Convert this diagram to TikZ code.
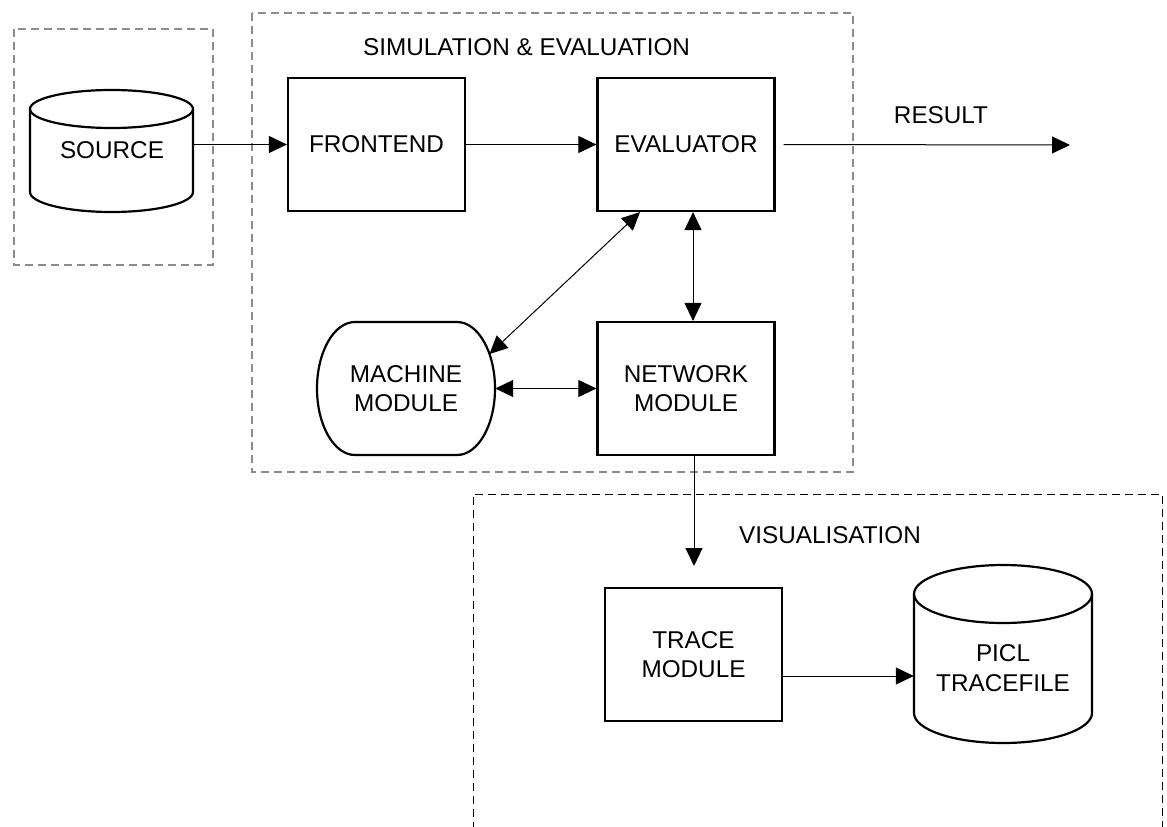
\documentclass[tikz,border=0pt]{standalone}
\usepackage{fontspec}
\setmainfont{Liberation Sans}
\usetikzlibrary{arrows.meta,calc}
\begin{document}
\begin{tikzpicture}[x=1pt,y=-1pt,
  lbl/.style={font=\fontsize{24.3}{29.5}\selectfont, align=center, inner sep=0pt},
  blk/.style={lbl, draw, line width=2.2pt, minimum width=177pt, minimum height=133pt},
  shell/.style={draw, line width=2.2pt},
  tip/.tip={Triangle[length=18pt,width=17pt]},
  conn/.style={line width=1pt, -tip},
  conn2/.style={line width=1pt, tip-tip},
  grayframe/.style={draw=gray!90, line width=1.3pt, dash pattern=on 8pt off 5pt},
  blackframe/.style={draw=black, line width=1pt, dash pattern=on 8pt off 5pt},
]
\useasboundingbox (0,0) rectangle (1167,827);

% group frames
\draw[grayframe] (14,29) rectangle (213,265);
\draw[grayframe] (252,13) rectangle (853,472);
\draw[blackframe] (473,830) -- (473,494) -- (1162,494) -- (1162,830);

% group titles
\node[lbl, anchor=west] (simTitle) at (363,47) {SIMULATION \& EVALUATION};
\node[lbl] (visTitle) at (830,535) {VISUALISATION};

% source drum
\node[lbl, minimum width=163pt, minimum height=122pt] (src) at (111.5,151) {};
\draw[shell] (30,109) -- (30,192)
  arc[start angle=180, end angle=360, x radius=81.5pt, y radius=20pt]
  -- (193,109);
\draw[shell] (111.5,109) ellipse[x radius=81.5pt, y radius=19pt];
\node[lbl] (srcTxt) at (112,150) {SOURCE};

% processing blocks
\node[blk] (fe) at (376.5,144.5) {FRONTEND};
\node[blk] (ev) at (686,144.5) {EVALUATOR};
\node[blk] (net) at (686,388.5) {NETWORK\\MODULE};
\node[blk] (tr) at (693.5,654.5) {TRACE\\MODULE};

% machine module (rounded sides)
\node[lbl, minimum width=178pt, minimum height=133pt] (mach) at (406,388.5) {MACHINE\\MODULE};
\draw[shell] (355,322) -- (457,322)
  arc[start angle=90, end angle=-90, x radius=38pt, y radius=66.5pt]
  -- (355,455)
  arc[start angle=270, end angle=90, x radius=38pt, y radius=66.5pt] -- cycle;
\coordinate (machUp) at (489.5,354);

% trace file drum
\node[lbl, minimum width=178pt, minimum height=178pt] (pic) at (1003,654) {};
\draw[shell] (914,594) -- (914,713)
  arc[start angle=180, end angle=360, x radius=89pt, y radius=30pt]
  -- (1092,594);
\draw[shell] (1003,594) ellipse[x radius=89pt, y radius=29pt];
\node[lbl] (picTxt) at (1003,668) {PICL\\TRACEFILE};

% result output
\node[lbl] (res) at (941,115) {RESULT};
\coordinate (resEnd) at (1070,145);

% connectors
\coordinate (trOutLevel) at (0,676);
\coordinate (trIn) at (694,566);
\draw[conn] (src.east |- fe.west) -- (fe.west);
\draw[conn] (fe.east) -- (ev.west);
\draw[conn] ([xshift=8pt]ev.east) -- (resEnd);
\draw[conn2] ([xshift=7pt]ev.south) -- ([xshift=7pt]net.north);
\draw[conn2] ([xshift=-46pt]ev.south) -- (machUp);
\draw[conn2] (mach.east) -- (net.west);
\draw[conn] ([xshift=8pt]net.south) -- (trIn);
\draw[conn] (tr.east |- trOutLevel) -- (pic.west |- trOutLevel);
\end{tikzpicture}
\end{document}
